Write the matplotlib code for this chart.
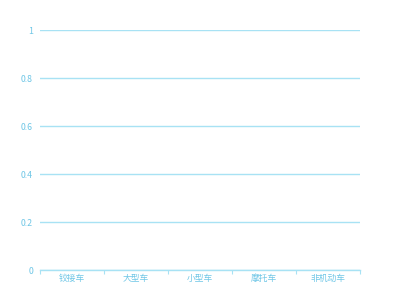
import matplotlib
matplotlib.use("Agg")
import matplotlib.pyplot as plt
import numpy as np

plt.rcParams["font.family"] = ["Noto Sans CJK SC", "DejaVu Sans"]

categories = ["铰接车", "大型车", "小型车", "摩托车", "非机动车"]
values = [0, 0, 0, 0, 0]
y_ticks = [0, 0.2, 0.4, 0.6, 0.8, 1]
y_labels = ["0", "0.2", "0.4", "0.6", "0.8", "1"]

GRID = "#a8e2f4"
TEXT = "#6ec6e6"

fig = plt.figure(figsize=(4, 3), dpi=100)
ax = fig.add_axes([0.1, 0.1, 0.8, 0.8])
x = np.arange(len(categories))
ax.bar(x, values, width=0.6, color="#6ec6e6")
ax.set_xlim(-0.5, len(categories) - 0.5)
ax.set_ylim(0, 1)

ax.set_yticks(y_ticks, y_labels)
ax.set_xticks(x, categories)
ax.set_xticks(np.arange(len(categories) + 1) - 0.5, minor=True)
ax.tick_params(axis="x", which="major", length=0, pad=3, labelsize=6.3, labelcolor=TEXT)
ax.tick_params(axis="x", which="minor", length=3, width=0.8, color=GRID)
ax.tick_params(axis="y", length=0, pad=5, labelsize=6.3, labelcolor=TEXT)

ax.grid(axis="y", color=GRID, lw=1.0)
ax.set_axisbelow(True)
for s in ["top", "right", "left"]:
    ax.spines[s].set_visible(False)
ax.spines["bottom"].set_color(GRID)
ax.spines["bottom"].set_linewidth(1.0)

fig.savefig("out.png", dpi=100)
